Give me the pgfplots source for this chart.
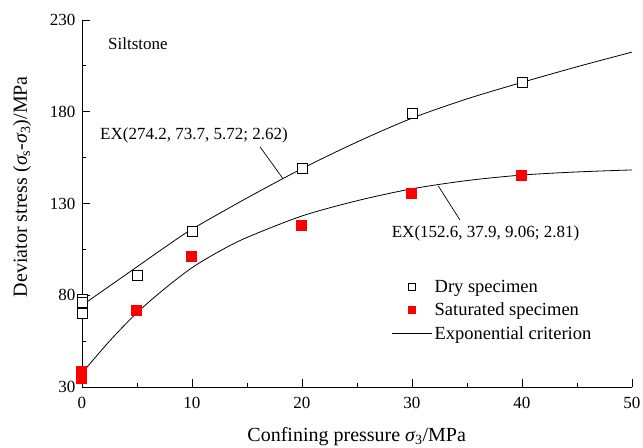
\documentclass[border=0pt]{standalone}
\usepackage{fontspec}
\setmainfont{Liberation Serif}
\usepackage{pgfplots}
\pgfplotsset{compat=1.18}
\newcommand\ff{\fontsize{17bp}{20bp}\selectfont}
\newcommand\fl{\fontsize{20bp}{24bp}\selectfont}
\newcommand\fg{\fontsize{18.5bp}{22bp}\selectfont}
\newcommand\sig{{\itshape σ}}
\definecolor{satred}{RGB}{255,0,0}
\pgfplotsset{
  markleg/.style={legend image code/.code={\draw[##1, mark size=3.6bp] plot coordinates {(20bp,0bp)};}},
  lineleg/.style={legend image code/.code={\draw[##1] (0bp,0bp) -- (40bp,0bp);}},
}
\begin{document}
\begin{tikzpicture}
\useasboundingbox (-82bp,-61bp) rectangle (561bp,387bp);
\begin{axis}[
  scale only axis, width=550bp, height=367bp,
  at={(0,0)}, anchor=south west,
  xmin=0, xmax=50, ymin=30, ymax=230,
  axis x line*=bottom, axis y line*=left,
  x axis line style={-}, y axis line style={-},
  axis line style={line width=0.9bp},
  xtick={0,10,...,50}, ytick={30,80,...,230},
  minor x tick num=1, minor y tick num=1,
  tick align=inside, major tick length=8bp, minor tick length=4bp,
  tick style={line width=0.9bp, black},
  /pgf/number format/assume math mode=true,
  tick label style={font=\ff},
  xticklabel style={yshift=-7bp},
  yticklabel style={xshift=-3bp},
  xlabel={Confining pressure \sig\textsubscript{3}/MPa},
  ylabel={Deviator stress (\sig\textsubscript{s}-\sig\textsubscript{3})/MPa},
  label style={font=\fl},
  xlabel style={at={(axis description cs:0.4995,-0.148)}, anchor=base},
  ylabel style={at={(axis description cs:-0.1,0.546)}, anchor=base},
  clip=false,
  legend style={draw=none, fill=none, font=\fg, at={(axis description cs:0.563,0.297)}, anchor=north west, row sep=5bp, inner sep=0pt},
  legend cell align=left,
]
% fitted criterion curves
\addplot[black, line width=0.8bp, smooth, forget plot] coordinates {
(0,74.5) (2.5,85) (5,95.5) (7.5,106) (10,116) (15,133) (20,149) (25,163.5) (30,176.5) (35,187) (40,196) (45,204.5) (50,212.5)};
\addplot[black, line width=0.8bp, smooth, forget plot] coordinates {
(0,37.6) (2.5,55) (5,70.5) (7.5,83.5) (10,95) (12.5,104) (15,111.5) (20,123.2) (25,131.5) (30,138) (35,142.5) (40,145.5) (45,147.2) (50,148.3)};
% data
\addplot[only marks, mark=square*, mark size=5bp, mark options={fill=white, draw=black, line width=0.8bp}, markleg] coordinates {
(0,78) (0,76) (0,70) (5,90.7) (10,114.6) (20,149.2) (30,179.2) (40,196.2)};
\addlegendentry{Dry specimen}
\addplot[only marks, mark=square*, mark size=5bp, mark options={fill=satred, draw=satred, line width=0bp}, markleg] coordinates {
(0,38.3) (0,36.5) (0,34.7) (5,71.6) (10,101) (20,117.9) (30,135.2) (40,145.5)};
\addlegendentry{Saturated specimen}
\addlegendimage{black, line width=0.8bp, lineleg}
\addlegendentry{Exponential criterion}
% annotations
\node[font=\ff, anchor=west, inner sep=0pt] at (axis cs:2.36,216.9) {Siltstone};
\node[font=\ff, anchor=west, inner sep=0pt] at (axis cs:1.64,167.3) {EX(274.2, 73.7, 5.72; 2.62)};
\draw[black, line width=0.7bp] (axis cs:16.18,160.9) -- (axis cs:18.25,143.7);
\node[font=\ff, anchor=west, inner sep=0pt] at (axis cs:28.15,113.8) {EX(152.6, 37.9, 9.06; 2.81)};
\draw[black, line width=0.7bp] (axis cs:34.36,121) -- (axis cs:32.4,139.5);
\end{axis}
\end{tikzpicture}
\end{document}
